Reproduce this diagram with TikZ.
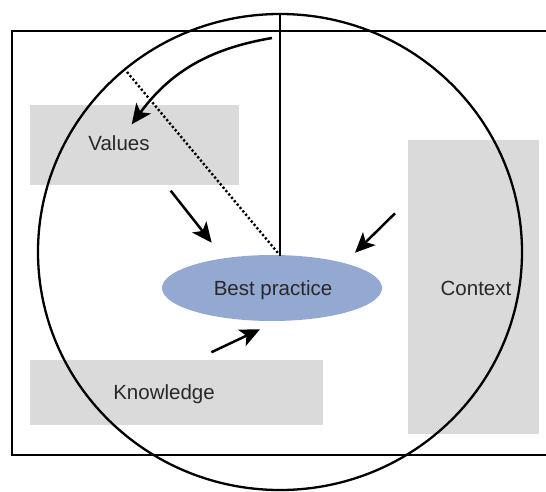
\documentclass[tikz,border=0pt]{standalone}
\usepackage{fontspec}
\setmainfont{Liberation Sans}
\usetikzlibrary{shapes.geometric,arrows.meta}
\definecolor{boxgray}{RGB}{218,218,218}
\definecolor{bpblue}{RGB}{147,169,209}
\definecolor{txtgray}{RGB}{40,40,40}
\tikzset{
  graybox/.style={rectangle,fill=boxgray,draw=none,inner sep=0pt},
  lbl/.style={anchor=base,text=txtgray,inner sep=0pt,font=\fontsize{20.5}{24}\selectfont},
  frame/.style={draw=black,line width=2.3pt},
  arr/.style={draw=black,line width=2.5pt,-{Stealth[length=20pt,width=18pt,inset=5pt]}},
  dotline/.style={draw=black,line width=2.4pt,dash pattern=on 2.2pt off 2.2pt}
}
\begin{document}
\begin{tikzpicture}[x=1pt,y=-1pt]
\useasboundingbox (0,0) rectangle (546,491);
\clip (0,0) rectangle (546,491);
% outer frame
\draw[frame] (12,31) rectangle (560,455);
% gray boxes
\node[graybox,minimum width=209pt,minimum height=80pt] (valbox) at (134.5,145) {};
\node[graybox,minimum width=293pt,minimum height=65pt] (knbox) at (176.5,392.5) {};
\node[graybox,minimum width=131pt,minimum height=294pt] (ctxbox) at (473.5,287) {};
% big circle
\node[ellipse,draw=black,line width=2.3pt,minimum width=484pt,minimum height=476pt,inner sep=0pt] (circ) at (280,252) {};
% coordinates
\coordinate (ctop) at (280,14);
\coordinate (dotstart) at (127,72);
\coordinate (dotend) at (278,253);
\coordinate (bptop) at (280,255.5);
% best practice ellipse
\node[ellipse,fill=bpblue,draw=none,minimum width=220pt,minimum height=66pt,inner sep=0pt] (bp) at (272,288) {};
% lines
\draw[line width=2.3pt] (ctop) -- (bptop);
\draw[dotline] (dotstart) -- (dotend);
% arrows
\coordinate (a0s) at (272,38);
\coordinate (a0e) at (131.7,124.3);
\draw[arr] (a0s) to[bend right=22] (a0e);
\coordinate (a1s) at (170.7,190.7);
\coordinate (a1e) at (211.7,242.7);
\draw[arr] (a1s) -- (a1e);
\coordinate (a2s) at (395,213.3);
\coordinate (a2e) at (355,252.7);
\draw[arr] (a2s) -- (a2e);
\coordinate (a3s) at (211.3,352.3);
\coordinate (a3e) at (260,329.3);
\draw[arr] (a3s) -- (a3e);
% labels
\node[lbl] (tval) at (119,150) {Values};
\node[lbl] (tbp) at (273,295) {Best practice};
\node[lbl] (tkn) at (164,399) {Knowledge};
\node[lbl] (tctx) at (476,295) {Context};
\end{tikzpicture}
\end{document}
